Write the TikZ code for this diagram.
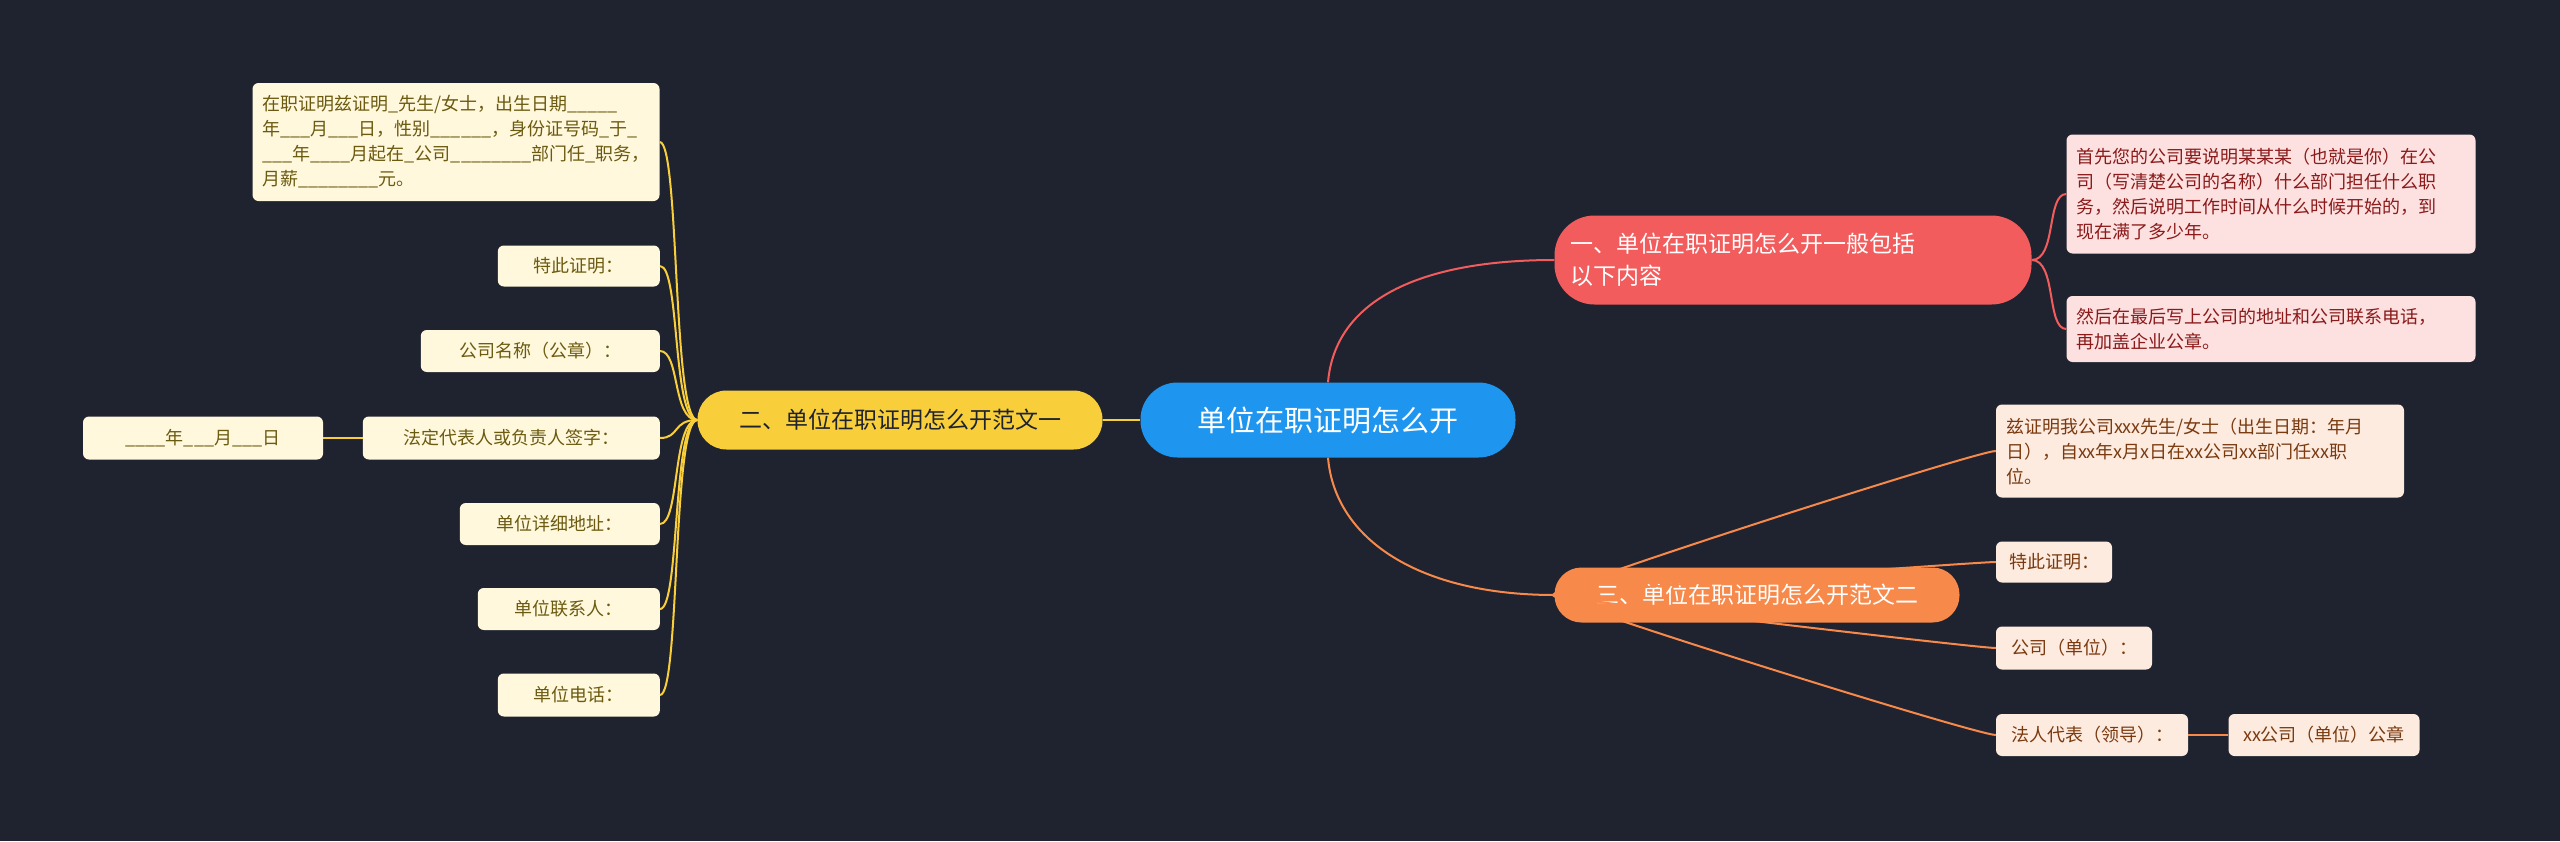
\documentclass[tikz,border=0pt]{standalone}
\usepackage{fontspec}
\setmainfont{Noto Sans CJK SC}
\definecolor{bg}{HTML}{1F2330}
\definecolor{cblue}{HTML}{1E96F0}
\definecolor{cred}{HTML}{F25C5C}
\definecolor{corg}{HTML}{F7894A}
\definecolor{cyel}{HTML}{F8CF3A}
\definecolor{fred}{HTML}{FDE0E0}
\definecolor{tred}{HTML}{8B1A1A}
\definecolor{forg}{HTML}{FDEBDF}
\definecolor{torg}{HTML}{7A3A10}
\definecolor{fyel}{HTML}{FFF8DC}
\definecolor{tyel}{HTML}{6B5A10}
\tikzset{
  leaf/.style={rounded corners=6pt,inner xsep=10pt,inner ysep=4pt,align=left,font=\fontsize{18}{25}\selectfont},
  lr/.style={leaf,fill=fred,text=tred},
  lo/.style={leaf,fill=forg,text=torg},
  ly/.style={leaf,fill=fyel,text=tyel},
  br/.style={rounded corners=27pt,inner xsep=14pt,align=left,font=\fontsize{23}{32}\selectfont},
  er/.style={draw=cred,line width=2pt},
  eo/.style={draw=corg,line width=2pt},
  ey/.style={draw=cyel,line width=2pt},
}
\begin{document}
\begin{tikzpicture}[x=1pt,y=-1pt]
\fill[bg] (0,0) rectangle (2560,841);
\useasboundingbox (0,0) rectangle (2560,841);
% root and branches
\node[rounded corners=37pt,fill=cblue,text=white,minimum width=375pt,minimum height=75pt,font=\fontsize{29}{34}\selectfont] (root) at (1328,420) {单位在职证明怎么开};
\node[br,fill=cred,text=white,minimum width=477pt,minimum height=89pt,text width=445pt,rounded corners=40pt] (b1) at (1793,260) {一、单位在职证明怎么开一般包括\\以下内容};
\node[br,fill=corg,text=white,minimum width=405pt,minimum height=55pt] (b3) at (1757,595) {三、单位在职证明怎么开范文二};
\node[br,fill=cyel,text=bg,minimum width=405pt,minimum height=59pt,rounded corners=29pt] (b2) at (900,420) {二、单位在职证明怎么开范文一};
\draw[er] (root.north) .. controls (1335,300) and (1420,260) .. (b1.west);
\draw[eo] (root.south) .. controls (1335,540) and (1420,595) .. (b3.west);
\draw[ey] (root.west) -- (b2.east);
% red leaves
\node[lr,minimum width=409pt,minimum height=119pt,text width=389pt] (r1) at (2271,194) {首先您的公司要说明某某某（也就是你）在公\\司（写清楚公司的名称）什么部门担任什么职\\务，然后说明工作时间从什么时候开始的，到\\现在满了多少年。};
\node[lr,minimum width=409pt,minimum height=66pt,text width=389pt] (r2) at (2271,329) {然后在最后写上公司的地址和公司联系电话，\\再加盖企业公章。};
\foreach \n in {r1,r2} \draw[er] (b1.east) .. controls +(25,0) and +(-20,0) .. (\n.west);
% orange leaves
\node[lo,minimum width=408pt,minimum height=93pt,text width=388pt] (o1) at (2200,451) {兹证明我公司xxx先生/女士（出生日期：年月\\日），自xx年x月x日在xx公司xx部门任xx职\\位。};
\node[lo,minimum width=116pt,minimum height=41pt] (o2) at (2054,562) {特此证明：};
\node[lo,minimum width=156pt,minimum height=43pt] (o3) at (2074,648) {公司（单位）：};
\node[lo,minimum width=192pt,minimum height=42pt] (o4) at (2092,735) {法人代表（领导）：};
\node[lo,minimum width=191pt,minimum height=42pt] (o5) at (2324,735) {xx公司（单位）公章};
\foreach \n in {o1,o2,o3,o4} \draw[eo] (b3.west) .. controls +(-25,0) and +(-20,0) .. (\n.west);
\draw[eo] (o4.east) -- (o5.west);
% yellow leaves
\node[ly,minimum width=407pt,minimum height=118pt,text width=387pt] (y1) at (456,142) {在职证明兹证明\_先生/女士，出生日期\_\_\_\_\_\\年\_\_\_月\_\_\_日，性别\_\_\_\_\_\_，身份证号码\_于\_\\\_\_\_年\_\_\_\_月起在\_公司\_\_\_\_\_\_\_\_部门任\_职务，\\月薪\_\_\_\_\_\_\_\_元。};
\node[ly,minimum width=162pt,minimum height=41pt,anchor=east] (y2) at (660,266) {特此证明：};
\node[ly,minimum width=239pt,minimum height=42pt,anchor=east] (y3) at (660,351) {公司名称（公章）：};
\node[ly,minimum width=297pt,minimum height=43pt,anchor=east] (y4) at (660,438) {法定代表人或负责人签字：};
\node[ly,minimum width=240pt,minimum height=43pt] (y5) at (203,438) {\_\_\_\_年\_\_\_月\_\_\_日};
\node[ly,minimum width=200pt,minimum height=42pt,anchor=east] (y6) at (660,524) {单位详细地址：};
\node[ly,minimum width=182pt,minimum height=42pt,anchor=east] (y7) at (660,609) {单位联系人：};
\node[ly,minimum width=162pt,minimum height=43pt,anchor=east] (y8) at (660,695) {单位电话：};
\foreach \n in {y1,y2,y3,y4,y6,y7,y8} \draw[ey] (b2.west) .. controls +(-25,0) and +(20,0) .. (\n.east);
\draw[ey] (y4.west) -- (y5.east);
\end{tikzpicture}
\end{document}
